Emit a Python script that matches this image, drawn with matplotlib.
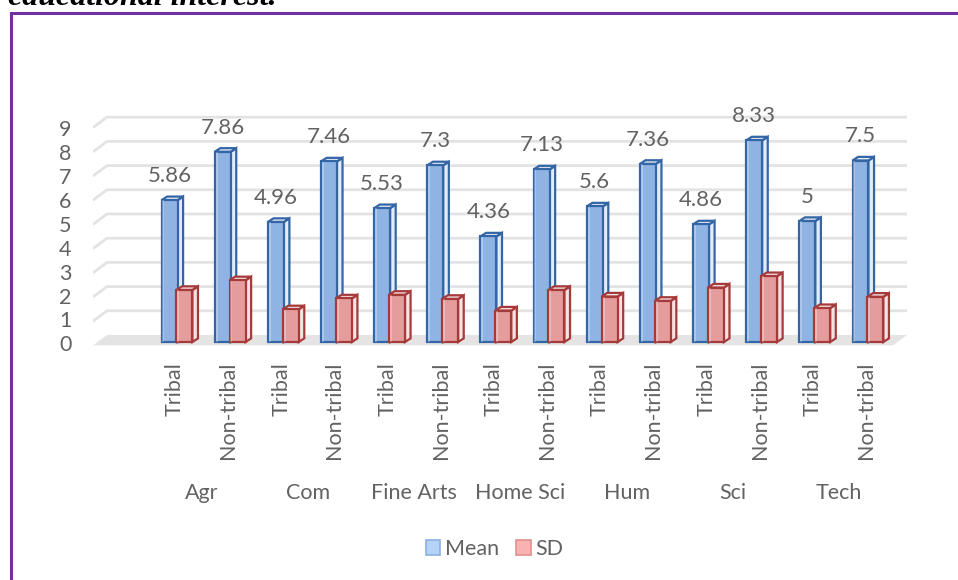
import matplotlib
matplotlib.use("Agg")
import matplotlib.pyplot as plt
from matplotlib.patches import Polygon, Patch
from matplotlib.lines import Line2D

# ---------------- data ----------------
categories = ["Agr", "Com", "Fine Arts", "Home Sci", "Hum", "Sci", "Tech"]
groups = ["Tribal", "Non-tribal"]
mean_values = [5.86, 7.86, 4.96, 7.46, 5.53, 7.3, 4.36, 7.13, 5.6, 7.36, 4.86, 8.33, 5, 7.5]
sd_values = [2.15, 2.55, 1.35, 1.8, 1.95, 1.78, 1.3, 2.15, 1.88, 1.7, 2.25, 2.72, 1.4, 1.87]
y_ticks = list(range(0, 10))
series_names = ["Mean", "SD"]

# ---------------- style ----------------
FONT = ["Lato", "DejaVu Sans"]
TXT = "#626262"
BLUE_FACE, BLUE_EDGE, BLUE_SIDE = "#8fb4e3", "#3466a6", "#e4ecf7"
RED_FACE, RED_EDGE, RED_SIDE = "#e59c9c", "#a63a3a", "#f6e2e2"
GRID = "#e3e3e3"
FLOOR = "#e4e4e4"
PURPLE = "#7030a0"
FS = 15.5

W, H = 958, 580
fig = plt.figure(figsize=(W / 100, H / 100), dpi=100)

# axes mapped so slot index -> x, value -> y
ax = fig.add_axes([93 / W, 1 - 352 / H, 814 / W, 252 / H])
ax.set_xlim(-1.59, 13.725)
ax.set_ylim(-0.413, 10.0)
ax.axis("off")

# 3D depth offsets (data units)
gdx, gfront, gback = 0.263, -0.14, 0.29   # wall/floor depth
bdx, bdy = 0.105, 0.15                    # bar depth
bw = 0.30                                 # bar front width

x0, x1 = ax.get_xlim()

# floor
ax.add_patch(Polygon([(x0, gfront), (x0 + gdx, gback), (x1, gback), (x1 - gdx, gfront)],
                     closed=True, facecolor=FLOOR, edgecolor="none", zorder=1))

# gridlines with perspective stub on the left
for v in y_ticks[1:]:
    ax.add_line(Line2D([x0, x0 + gdx, x1], [v + gfront, v + gback, v + gback],
                       color=GRID, lw=2.0, zorder=1, solid_capstyle="butt"))

# y tick labels
for v in y_ticks:
    ax.text(x0 - 0.40, v * 0.988 + gfront, str(v), ha="right", va="center",
            fontsize=FS, color=TXT, family=FONT, clip_on=False)


def bar3d(xl, h, face, edge, side, z):
    front = Polygon([(xl, 0), (xl + bw, 0), (xl + bw, h), (xl, h)], closed=True,
                    facecolor=face, edgecolor=edge, lw=1.6, zorder=z + 0.2, joinstyle="miter")
    right = Polygon([(xl + bw, 0), (xl + bw + bdx, bdy), (xl + bw + bdx, h + bdy), (xl + bw, h)],
                    closed=True, facecolor=side, edgecolor=edge, lw=1.6, zorder=z, joinstyle="miter")
    top = Polygon([(xl, h), (xl + bdx, h + bdy), (xl + bw + bdx, h + bdy), (xl + bw, h)],
                  closed=True, facecolor=side, edgecolor=edge, lw=1.6, zorder=z + 0.1, joinstyle="miter")
    for p in (right, top, front):
        ax.add_patch(p)
    # inner highlight on the front face
    ax.add_line(Line2D([xl + 0.035, xl + 0.035], [0.05, h - 0.05], color="white",
                       alpha=0.35, lw=1.2, zorder=z + 0.3))


n = len(mean_values)
for i in range(n):
    m, s = mean_values[i], sd_values[i]
    bar3d(i - 0.30, m, BLUE_FACE, BLUE_EDGE, BLUE_SIDE, 3 + i)
    bar3d(i - 0.02, s, RED_FACE, RED_EDGE, RED_SIDE, 3.5 + i)
    ax.text(i - 0.15, m + 1.0, f"{m:g}", ha="center", va="center",
            fontsize=16, color=TXT, family=FONT, zorder=30)
    # sub-category labels
    ax.text(i - 0.05, -0.83, groups[i % 2], rotation=90, ha="center", va="top",
            fontsize=FS, color=TXT, family=FONT, clip_on=False)

# category labels
for k, c in enumerate(categories):
    ax.text(2 * k + 0.45, -6.24, c, ha="center", va="center",
            fontsize=FS, color=TXT, family=FONT, clip_on=False)

# legend
handles = [Patch(facecolor="#b4d3f7", edgecolor="#8cb1e0", lw=1.2, label=series_names[0]),
           Patch(facecolor="#f8b2b2", edgecolor="#e38e8e", lw=1.2, label=series_names[1])]
fig.legend(handles=handles, loc="center", bbox_to_anchor=(0.516, 1 - 549 / H), ncol=2,
           frameon=False, handlelength=0.68, handleheight=0.68, handletextpad=0.2,
           columnspacing=0.8, prop={"family": FONT, "size": FS}, labelcolor=TXT)

# purple frame (left and top edges)
fig.add_artist(Line2D([10.5 / W, 10.5 / W, 1.0], [0.0, 1 - 12.5 / H, 1 - 12.5 / H],
                      transform=fig.transFigure, color=PURPLE, lw=2.2, solid_joinstyle="miter"))

# cropped document caption at the very top (cut off in the reference as well)
fig.text(8 / W, 1 - 5 / H, "educational interest.", ha="left", va="baseline",
         fontsize=23, fontweight="bold", fontstyle="italic",
         family=["Liberation Serif", "DejaVu Serif"], color="black")

fig.savefig("out.png", dpi=100)
